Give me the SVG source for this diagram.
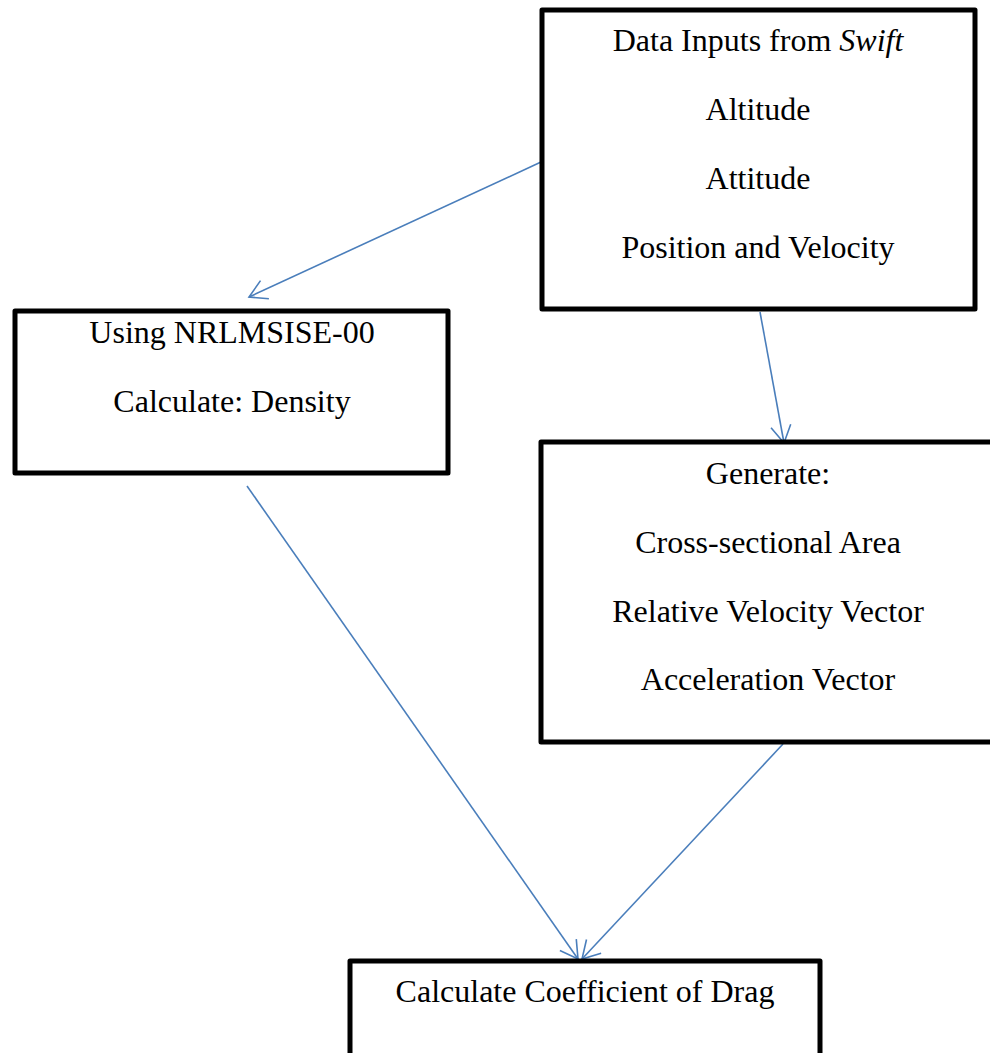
<svg xmlns="http://www.w3.org/2000/svg" width="990" height="1053" viewBox="0 0 990 1053">
<style>
.box{fill:#fff;stroke:#000;stroke-width:5;stroke-linejoin:round}
.t{font-family:"Liberation Serif","Times New Roman",serif;font-size:32px;fill:#000;text-anchor:middle}
.c{fill:none;stroke:#4a7ebb;stroke-width:1.6}
</style>
<defs>
<marker id="ah" markerUnits="userSpaceOnUse" markerWidth="40" markerHeight="40" refX="0" refY="0" viewBox="-20 -20 40 40" orient="auto" overflow="visible">
<path d="M-17.3,-10 L0,0 L-17.3,10" fill="none" stroke="#4a7ebb" stroke-width="1.6"/>
</marker>
</defs>
<rect width="990" height="1053" fill="#fff"/>
<g id="connectors">
<line class="c" x1="541" y1="162" x2="249" y2="297" marker-end="url(#ah)"/>
<line class="c" x1="760" y1="312" x2="784" y2="443" marker-end="url(#ah)"/>
<line class="c" x1="247" y1="486" x2="578" y2="959" marker-end="url(#ah)"/>
<line class="c" x1="783" y1="744" x2="582" y2="959" marker-end="url(#ah)"/>
</g>
<g id="node-inputs">
<rect class="box" x="542" y="10" width="433" height="299"/>
<text class="t" x="758" y="51">Data Inputs from <tspan font-style="italic">Swift</tspan></text>
<text class="t" x="758" y="120">Altitude</text>
<text class="t" x="758" y="189">Attitude</text>
<text class="t" x="758" y="258">Position and Velocity</text>
</g>
<g id="node-density">
<rect class="box" x="15" y="311" width="433" height="162"/>
<text class="t" x="232" y="343">Using NRLMSISE-00</text>
<text class="t" x="232" y="412">Calculate: Density</text>
</g>
<g id="node-generate">
<rect class="box" x="541" y="442" width="455" height="300"/>
<text class="t" x="768" y="484">Generate:</text>
<text class="t" x="768" y="553">Cross-sectional Area</text>
<text class="t" x="768" y="622">Relative Velocity Vector</text>
<text class="t" x="768" y="690">Acceleration Vector</text>
</g>
<g id="node-drag">
<rect class="box" x="350" y="961" width="470" height="120"/>
<text class="t" x="585" y="1002">Calculate Coefficient of Drag</text>
</g>
</svg>
